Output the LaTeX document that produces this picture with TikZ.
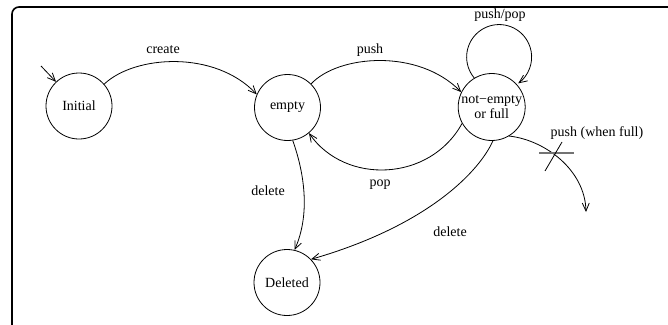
\documentclass[tikz,border=0pt]{standalone}
\usepackage{fontspec}
\setmainfont{Liberation Serif}
\usetikzlibrary{arrows.meta}
\begin{document}
\begin{tikzpicture}[x=1pt,y=-1pt,
  state/.style={draw,circle,line width=0.8pt,minimum size=66pt,inner sep=0pt,font=\fontsize{14}{15}\selectfont,align=center},
  lbl/.style={font=\fontsize{14}{15}\selectfont,inner sep=0pt},
  edge/.style={draw,line width=0.8pt,-{Straight Barb[length=8pt,width=7pt,line width=0.8pt]}},
  plainedge/.style={draw,line width=0.8pt}]
\useasboundingbox (0,0) rectangle (668,324);
\begin{scope}
\clip (0,0) rectangle (668,324);
\draw[line width=1.6pt,rounded corners=7pt] (12,7) rectangle (720,380);
\end{scope}

\node[state] (I) at (79,106) {Initial};
\node[state] (E) at (287.5,107.5) {empty};
\node[state,minimum size=67pt] (N) at (491.7,107) {not−empty\\or full};
\node[state] (D) at (287,282.5) {Deleted};

\coordinate (s) at (41,66);
\coordinate (w) at (586,212);

% start
\path[edge] (s) -- (I);
% create
\path[edge] (I.41) .. controls (135,55) and (215,50) .. (E.157);
% push
\path[edge] (E.45) .. controls (338,55) and (418,48) .. (N.154);
% pop
\path[edge] (N.209) .. controls (430,182) and (345,185) .. (E.310);
% loop push/pop
\path[edge] (N.121) arc[start angle=-220, end angle=54, radius=32.5];
% delete from empty
\path[edge] (E.279) .. controls (305,175) and (310,215) .. (D.77);
% delete from not-empty
\path[edge] (N.272) .. controls (480,170) and (430,225) .. (D.44);
% push (when full)
\path[edge] (N.301) .. controls (545,140) and (585,170) .. (w);

% cross
\coordinate (c1) at (539,153);
\coordinate (c2) at (574,153);
\coordinate (c3) at (562,142);
\coordinate (c4) at (545,171);
\draw[line width=1.2pt,black!55] (c1) -- (c2);
\draw[line width=0.8pt] (c3) -- (c4);

% labels
\node[lbl] (l1) at (163,50) {create};
\node[lbl] (l2) at (370,50) {push};
\node[lbl] (l3) at (500,15) {push/pop};
\node[lbl] (l4) at (380,185) {pop};
\node[lbl] (l5) at (268,191) {delete};
\node[lbl] (l6) at (450,232) {delete};
\node[lbl] (l7) at (597,133) {push (when full)};
\end{tikzpicture}
\end{document}
